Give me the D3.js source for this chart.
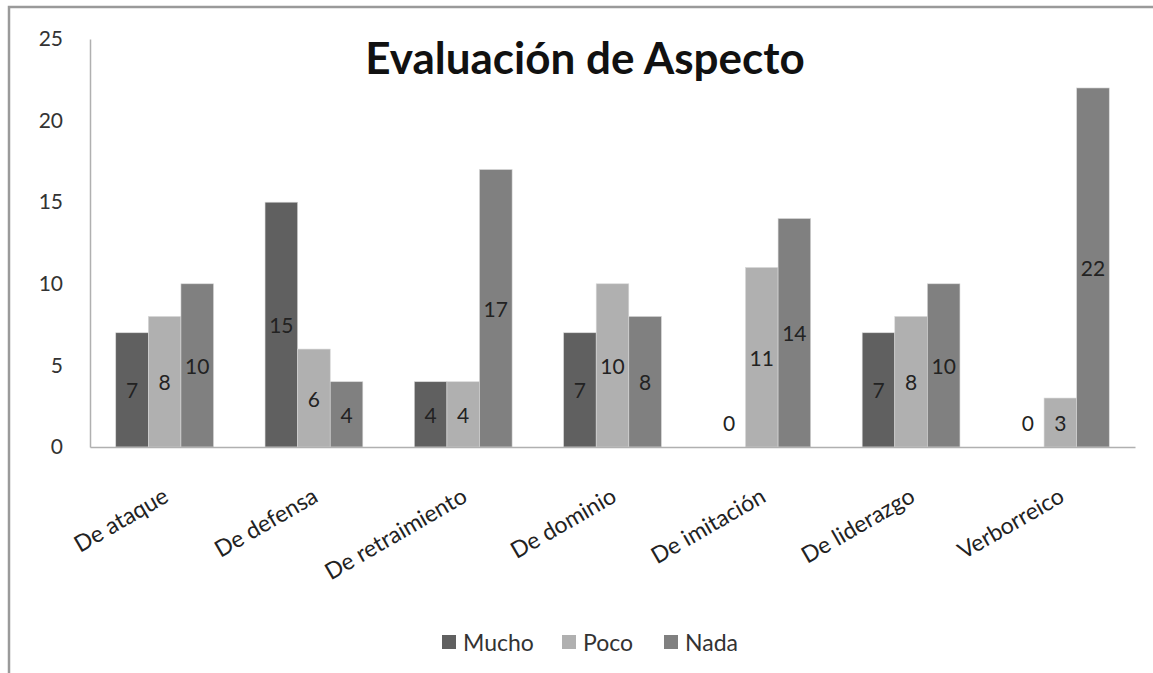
<!DOCTYPE html>
<html><head><meta charset="utf-8">
<script src="https://cdn.jsdelivr.net/npm/d3@7"></script>
<style>body{margin:0;background:#fff}svg{display:block}text{font-family:Lato,"Open Sans",sans-serif}</style>
</head><body>
<svg id="c" width="1153" height="673"></svg>
<script>
const categories = ["De ataque","De defensa","De retraimiento","De dominio","De imitación","De liderazgo","Verborreico"];
const seriesNames = ["Mucho","Poco","Nada"];
const mucho = [7,15,4,7,0,7,0];
const poco  = [8,6,4,10,11,8,3];
const nada  = [10,4,17,8,14,10,22];
const yTicks = [0,5,10,15,20,25];
const colors = ["#606060","#b0b0b0","#808080"];
const title = "Evaluación de Aspecto";

(function(){
const series = [mucho, poco, nada];
const svg = d3.select("#c");
svg.append("rect").attr("x",0).attr("y",0).attr("width",1153).attr("height",673).attr("fill","#fff");
svg.append("rect").attr("x",9).attr("y",7).attr("width",1160).attr("height",700)
  .attr("fill","none").attr("stroke","#9a9a9a").attr("stroke-width",2.5);

const pL=90, pR=1135, pT=39, pB=447;
const x = d3.scaleBand().domain(categories).range([pL,pR]).paddingInner(0).paddingOuter(0);
const groupW = x.bandwidth()*0.655;
const xs = d3.scaleBand().domain(seriesNames).range([0,groupW]).padding(0);
const y = d3.scaleLinear().domain([0,25]).range([pB,pT]);

const ya = svg.append("g").attr("transform",`translate(${pL},0)`)
  .call(d3.axisLeft(y).tickValues(yTicks).tickSize(0).tickPadding(27));
ya.select(".domain").attr("stroke","#b0b0b0").attr("stroke-width",1.5);
ya.selectAll("text").attr("font-size",21).attr("fill","#333").attr("font-family","Lato");

const g = svg.append("g");
categories.forEach((c,i)=>{
  const gx = x(c) + (x.bandwidth()-groupW)/2;
  seriesNames.forEach((s,j)=>{
    const v = series[j][i];
    g.append("rect").attr("x",gx+xs(s)).attr("width",xs.bandwidth())
      .attr("y",y(v)).attr("height",y(0)-y(v)).attr("fill",colors[j])
      .attr("stroke","#d8d8d8").attr("stroke-width",0.6);
    const ly = v===0 ? y(0)-25 : y(v/2);
    g.append("text").attr("x",gx+xs(s)+xs.bandwidth()/2).attr("y",ly)
      .attr("text-anchor","middle").attr("dominant-baseline","central")
      .attr("font-size",21).attr("fill","#222").text(v);
  });
});

const xa = svg.append("g").attr("transform",`translate(0,${pB})`)
  .call(d3.axisBottom(x).tickSize(0).tickFormat(()=>""));
xa.select(".domain").attr("stroke","#b0b0b0").attr("stroke-width",1.5);
xa.selectAll(".tick").append("text")
  .attr("transform","translate(1,46) rotate(-30)")
  .attr("text-anchor","end").attr("dominant-baseline","central")
  .attr("font-size",23).attr("fill","#222").attr("font-family","Lato").text(d=>d);

svg.append("text").attr("x",585).attr("y",74).attr("text-anchor","middle")
  .attr("font-size",44).attr("font-weight","bold").attr("fill","#111").text(title);

const legX = [442,562,664];
seriesNames.forEach((s,j)=>{
  svg.append("rect").attr("x",legX[j]).attr("y",635).attr("width",14).attr("height",14).attr("fill",colors[j]);
  svg.append("text").attr("x",legX[j]+21).attr("y",642).attr("dominant-baseline","central")
    .attr("font-size",23).attr("fill","#333").text(s);
});
})();
</script>
</body></html>
